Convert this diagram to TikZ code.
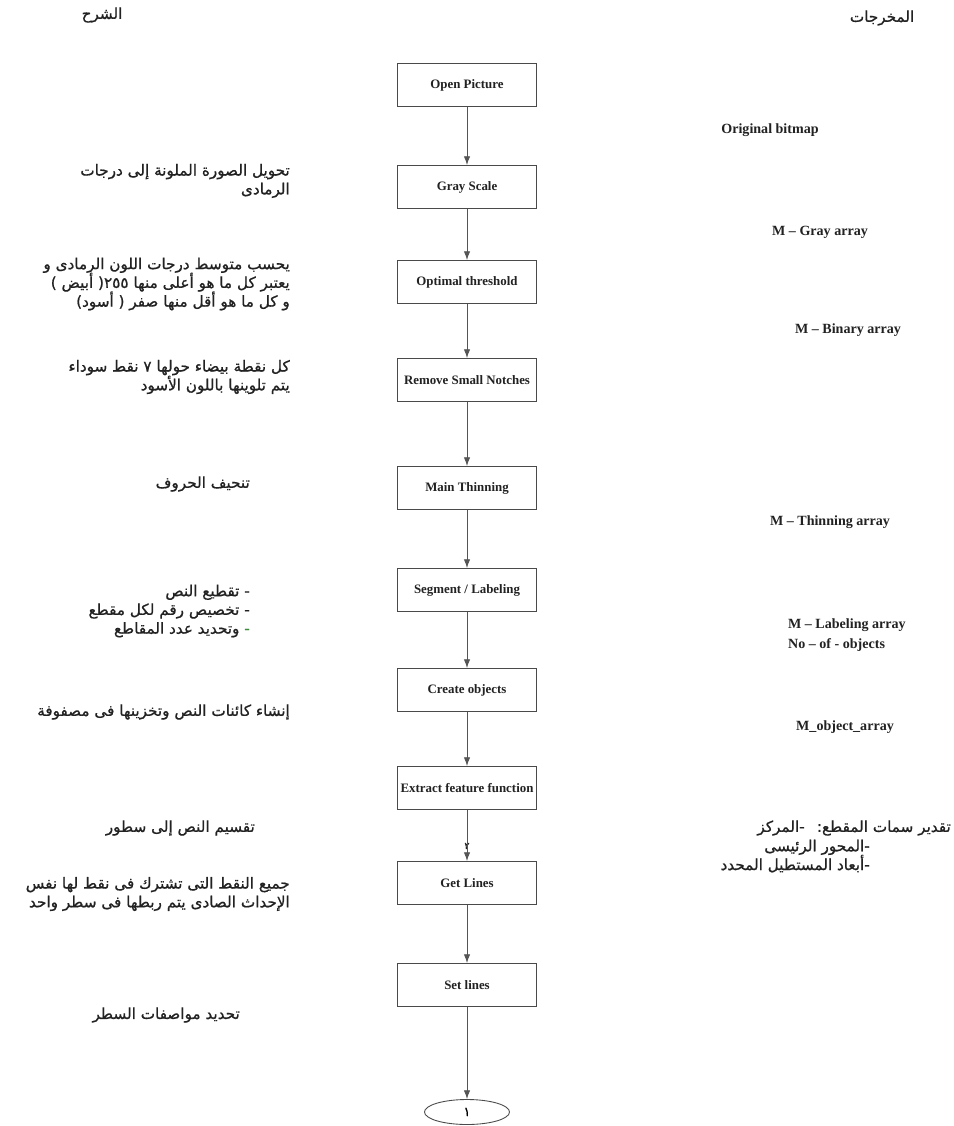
\documentclass[tikz,border=0pt]{standalone}
\usepackage{fontspec}
\setmainfont{Liberation Serif}
\newfontfamily\arabicfont[Script=Arabic,FakeBold=0.8]{DejaVu Sans}
\TeXXeTstate=1
\usetikzlibrary{arrows.meta,shapes.geometric}
\definecolor{ink}{HTML}{222222}
\definecolor{boxline}{HTML}{4A4A4A}
\definecolor{arrowgray}{HTML}{555555}
\definecolor{dashgreen}{HTML}{3C8C3C}
\newcommand{\artext}[1]{\beginR #1\endR}

\begin{document}
\begin{tikzpicture}[x=0.03cm,y=-0.03cm,>={Latex[length=7.5pt,width=5.5pt]},
  stage/.style={draw=boxline,line width=0.75pt,minimum width=4.17cm,minimum height=1.29cm,inner sep=0pt,font=\bfseries\fontsize{11}{13}\selectfont,text=ink},
  outlabel/.style={font=\bfseries\fontsize{12}{17}\selectfont,text=ink},
  note/.style={anchor=east,align=right,inner sep=0pt,text=ink,font={\arabicfont\fontsize{13}{16}\selectfont\lineskiplimit=-20pt}},
  flow/.style={->,draw=arrowgray,line width=0.75pt}]
  \useasboundingbox (0,0) rectangle (953,1126);
  \fill[white] (0,0) rectangle (953,1126);

  % column heads
  \node[note,anchor=center] (hdrnote) at (102,15) {\artext{الشرح}};
  \node[note,anchor=center] (hdrout) at (882,18) {\artext{المخرجات}};

  % flow boxes
  \node[stage] (open) at (467,85) {Open Picture};
  \node[stage] (gray) at (467,187) {Gray Scale};
  \node[stage] (thresh) at (467,282) {Optimal threshold};
  \node[stage] (notch) at (467,380) {Remove Small Notches};
  \node[stage] (thin) at (467,488) {Main Thinning};
  \node[stage] (segm) at (467,590) {Segment / Labeling};
  \node[stage] (objs) at (467,690) {Create objects};
  \node[stage] (feat) at (467,788) {Extract feature function};
  \node[stage] (getl) at (467,883) {Get Lines};
  \node[stage] (setl) at (467,985) {Set lines};
  \node[ellipse,draw=boxline,line width=0.75pt,minimum width=2.55cm,minimum height=0.75cm,inner sep=0pt,font=\arabicfont\fontsize{11}{13}\selectfont] (conn) at (467,1112) {١};
  \node[font=\arabicfont\fontsize{8}{9}\selectfont,text=ink,inner sep=0pt] (pgmark) at (467,846) {٢};

  \draw[flow] (open) -- (gray);
  \draw[flow] (gray) -- (thresh);
  \draw[flow] (thresh) -- (notch);
  \draw[flow] (notch) -- (thin);
  \draw[flow] (thin) -- (segm);
  \draw[flow] (segm) -- (objs);
  \draw[flow] (objs) -- (feat);
  \draw[flow] (feat) -- (getl);
  \draw[flow] (getl) -- (setl);
  \draw[flow] (setl) -- (conn);

  % outputs
  \node[outlabel] (obmp) at (770,130) {Original bitmap};
  \node[outlabel] (ogray) at (820,232) {M -- Gray array};
  \node[outlabel] (obin) at (848,330) {M -- Binary array};
  \node[outlabel] (othin) at (830,522) {M -- Thinning array};
  \node[outlabel,anchor=west,align=left] (olab) at (784,635) {M -- Labeling array\\No -- of - objects};
  \node[outlabel] (oobj) at (845,727) {M\_object\_array};
  \node[note] (featnote) at (951,828) {\artext{المركز}-\hspace{0.8em}\artext{تقدير سمات المقطع:}};
  \node[note] (featlist) at (870,856) {\artext{المحور الرئيسى}-\\\artext{أبعاد المستطيل المحدد}-};

  % explanations
  \node[note] (n1) at (290,181) {\artext{تحويل الصورة الملونة إلى درجات}\\\artext{الرمادى}};
  \node[note] (n2) at (290,284) {\artext{يحسب متوسط درجات اللون الرمادى و}\\\artext{يعتبر كل ما هو أعلى منها ٢٥٥( أبيض )}\\\artext{و كل ما هو أقل منها صفر ( أسود)}};
  \node[note] (n3) at (290,377) {\artext{كل نقطة بيضاء حولها ٧ نقط سوداء}\\\artext{يتم تلوينها باللون الأسود}};
  \node[note] (n4) at (250,484) {\artext{تنحيف الحروف}};
  \node[note] (n5) at (250,611) {\artext{تقطيع النص} -\\\artext{تخصيص رقم لكل مقطع} -\\\artext{وتحديد عدد المقاطع} {\color{dashgreen}-}};
  \node[note] (n6) at (290,712) {\artext{إنشاء كائنات النص وتخزينها فى مصفوفة}};
  \node[note] (n7) at (255,828) {\artext{تقسيم النص إلى سطور}};
  \node[note] (n8) at (290,894) {\artext{جميع النقط التى تشترك فى نقط لها نفس}\\\artext{الإحداث الصادى يتم ربطها فى سطر واحد}};
  \node[note] (n9) at (240,1015) {\artext{تحديد مواصفات السطر}};
\end{tikzpicture}
\end{document}
